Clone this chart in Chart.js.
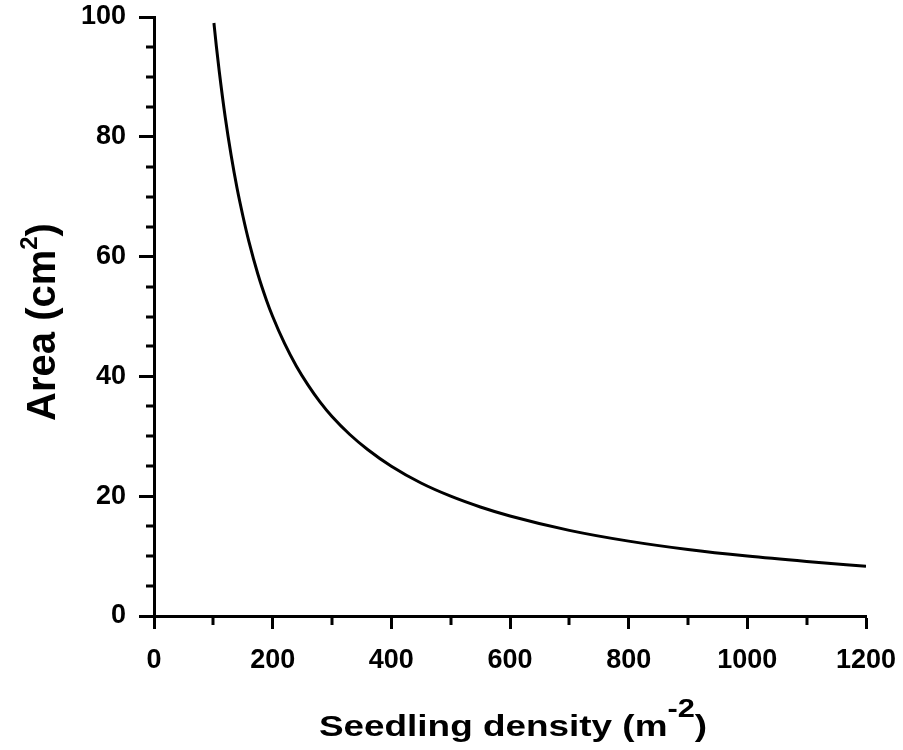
<!DOCTYPE html>
<html>
<head>
<meta charset="utf-8">
<script src="https://cdn.jsdelivr.net/npm/chart.js@4.4.0/dist/chart.umd.min.js"></script>
<style>
  html, body { margin: 0; padding: 0; background: #fff; }
  #wrap { width: 903px; height: 750px; }
</style>
</head>
<body>
<div id="wrap"><canvas id="areaChart" width="903" height="750"></canvas></div>
<script>
// values
const densities = [101, 105, 110, 120, 130, 140, 150, 160, 175, 190, 200, 220, 240, 260, 280, 300,
                   330, 360, 400, 450, 500, 550, 600, 700, 800, 900, 1000, 1100, 1200];
const areas = [99, 95.2, 90.9, 83.3, 76.9, 71.4, 66.7, 62.5, 57.1, 52.6, 50, 45.5, 41.7, 38.5, 35.7, 33.3,
               30.3, 27.8, 25, 22.2, 20, 18.2, 16.7, 14.3, 12.5, 11.1, 10, 9.1, 8.3];

const xMajorStep = 200;
const yMajorStep = 20;
const xMinorTicks = [100, 300, 500, 700, 900, 1100];
const yMinorTicks = [5, 10, 15, 25, 30, 35, 45, 50, 55, 65, 70, 75, 85, 90, 95];

const FONT = "'Liberation Sans', Arial, Helvetica, sans-serif";

// short ticks between the labelled ones
const minorTicks = {
    id: 'minorTicks',
    afterDraw(chart) {
        const ctx = chart.ctx;
        const x = chart.scales.x;
        const y = chart.scales.y;
        const area = chart.chartArea;
        ctx.save();
        ctx.strokeStyle = '#000';
        ctx.lineWidth = 3;
        ctx.beginPath();
        xMinorTicks.forEach(v => {
            const px = Math.round(x.getPixelForValue(v));
            ctx.moveTo(px, area.bottom);
            ctx.lineTo(px, area.bottom + 9);
        });
        yMinorTicks.forEach(v => {
            const py = Math.round(y.getPixelForValue(v));
            ctx.moveTo(area.left, py);
            ctx.lineTo(area.left - 8, py);
        });
        ctx.stroke();
        ctx.restore();
    }
};

// axis titles with superscripts
function drawParts(ctx, parts) {
    let total = 0;
    parts.forEach(p => {
        ctx.font = 'bold ' + p.size + 'px ' + FONT;
        p.w = ctx.measureText(p.text).width;
        total += p.w;
    });
    let cur = -total / 2;
    parts.forEach(p => {
        ctx.font = 'bold ' + p.size + 'px ' + FONT;
        ctx.fillText(p.text, cur, -p.rise);
        cur += p.w;
    });
}

const axisTitles = {
    id: 'axisTitles',
    afterDraw(chart) {
        const ctx = chart.ctx;
        ctx.save();
        ctx.fillStyle = '#000';
        ctx.textBaseline = 'alphabetic';
        ctx.textAlign = 'left';

        // x title
        ctx.save();
        ctx.translate(513, 736);
        ctx.scale(1.23, 1);
        drawParts(ctx, [
            { text: 'Seedling density (m', size: 30, rise: 0 },
            { text: '-2', size: 25, rise: 19 },
            { text: ')', size: 30, rise: 0 }
        ]);
        ctx.restore();

        // y title
        ctx.save();
        ctx.translate(55, 322);
        ctx.rotate(-Math.PI / 2);
        drawParts(ctx, [
            { text: 'Area (cm', size: 40, rise: 0 },
            { text: '2', size: 24, rise: 18 },
            { text: ')', size: 40, rise: 0 }
        ]);
        ctx.restore();

        ctx.restore();
    }
};

new Chart(document.getElementById('areaChart'), {
    type: 'scatter',
    data: {
        datasets: [{
            data: densities.map((d, i) => ({ x: d, y: areas[i] })),
            showLine: true,
            borderColor: '#000',
            borderWidth: 3,
            pointRadius: 0,
            cubicInterpolationMode: 'monotone',
            fill: false
        }]
    },
    options: {
        responsive: false,
        animation: false,
        layout: { padding: { top: 17, right: 37, left: 0, bottom: 0 } },
        plugins: {
            legend: { display: false },
            tooltip: { enabled: false }
        },
        scales: {
            x: {
                type: 'linear',
                min: 0,
                max: 1200,
                afterFit: s => {
                    s.height = 134;
                    s.paddingLeft = 0;
                    s.paddingRight = 0;
                },
                ticks: {
                    stepSize: xMajorStep,
                    color: '#000',
                    padding: 15,
                    maxRotation: 0,
                    callback: v => String(v),
                    font: { family: FONT, size: 27, weight: 'bold' }
                },
                grid: {
                    drawOnChartArea: false,
                    tickLength: 13,
                    tickWidth: 3,
                    tickColor: '#000'
                },
                border: { color: '#000', width: 3 }
            },
            y: {
                min: 0,
                max: 100,
                afterFit: s => {
                    s.width = 154;
                    s.paddingTop = 0;
                    s.paddingBottom = 0;
                },
                ticks: {
                    stepSize: yMajorStep,
                    color: '#000',
                    padding: 13,
                    callback: v => String(v),
                    font: { family: FONT, size: 27, weight: 'bold' }
                },
                grid: {
                    drawOnChartArea: false,
                    tickLength: 15,
                    tickWidth: 3,
                    tickColor: '#000'
                },
                border: { color: '#000', width: 3 }
            }
        }
    },
    plugins: [minorTicks, axisTitles]
});
</script>
</body>
</html>
